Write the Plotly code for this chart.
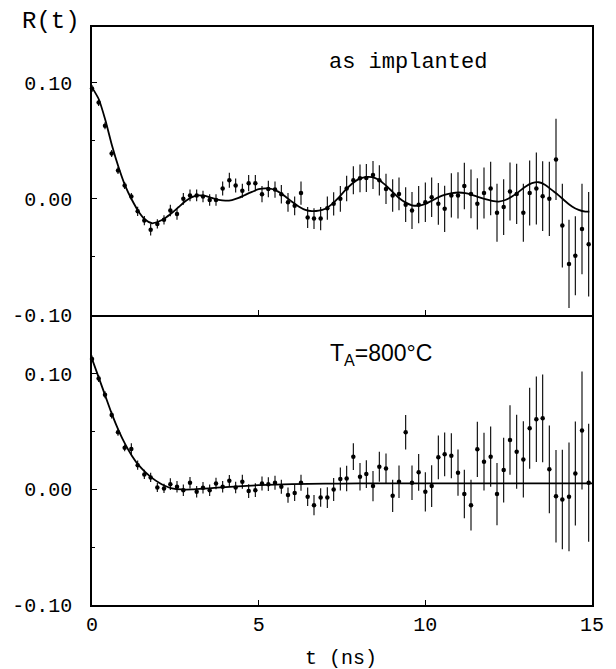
import plotly.graph_objects as go

# ---- data ----
t_ns = [0.00, 0.20, 0.39, 0.59, 0.78, 0.98, 1.18, 1.37, 1.57, 1.76,
        1.96, 2.16, 2.35, 2.55, 2.74, 2.94, 3.14, 3.33, 3.53, 3.72,
        3.92, 4.12, 4.31, 4.51, 4.70, 4.90, 5.10, 5.29, 5.49, 5.68,
        5.88, 6.08, 6.27, 6.47, 6.66, 6.86, 7.06, 7.25, 7.45, 7.64,
        7.84, 8.04, 8.23, 8.43, 8.62, 8.82, 9.02, 9.21, 9.41, 9.60,
        9.80, 10.00, 10.19, 10.39, 10.58, 10.78, 10.98, 11.17, 11.37, 11.56,
        11.76, 11.96, 12.15, 12.35, 12.54, 12.74, 12.94, 13.13, 13.33, 13.52,
        13.72, 13.92, 14.11, 14.31, 14.50, 14.70, 14.90]

top_R = [0.095, 0.083, 0.063, 0.039, 0.0245, 0.0115, 0.002, -0.0107, -0.0187, -0.0265,
         -0.0216, -0.018, -0.010, -0.013, 0.000, 0.003, 0.003, 0.002, -0.001, -0.001,
         0.009, 0.016, 0.0115, 0.007, 0.0135, 0.0135, 0.004, 0.0085, 0.008, 0.004,
         -0.003, -0.006, 0.005, -0.016, -0.017, -0.017, -0.008, -0.0043, 0.000, 0.009,
         0.016, 0.0177, 0.018, 0.0206, 0.016, 0.0086, 0.003, 0.0043, -0.005, -0.010,
         -0.005, -0.003, 0.0014, -0.0043, -0.0086, 0.003, 0.003, 0.011, 0.0043, -0.0043,
         0.005, 0.009, -0.012, -0.0071, 0.0063, 0.0043, -0.012, 0.005, 0.009, 0.0023,
         0.000, 0.034, -0.023, -0.056, -0.049, -0.026, -0.039]

top_err = [0.003, 0.003, 0.003, 0.003, 0.003, 0.003, 0.003, 0.004, 0.004, 0.005,
           0.004, 0.004, 0.005, 0.005, 0.005, 0.005, 0.005, 0.005, 0.005, 0.005,
           0.006, 0.0065, 0.006, 0.006, 0.007, 0.007, 0.007, 0.007, 0.007, 0.008,
           0.008, 0.008, 0.010, 0.009, 0.009, 0.010, 0.010, 0.010, 0.011, 0.011,
           0.012, 0.012, 0.012, 0.012, 0.013, 0.013, 0.014, 0.014, 0.015, 0.016,
           0.016, 0.017, 0.017, 0.018, 0.020, 0.019, 0.020, 0.020, 0.021, 0.022,
           0.022, 0.023, 0.025, 0.024, 0.025, 0.026, 0.025, 0.028, 0.031, 0.030,
           0.032, 0.035, 0.036, 0.038, 0.034, 0.039, 0.045]

bot_R = [0.113, 0.096, 0.082, 0.0645, 0.0495, 0.036, 0.035, 0.021, 0.013, 0.0104,
         0.0017, 0.0009, 0.0046, 0.0023, -0.0006, 0.0058, -0.002, 0.0014, -0.0006, 0.0052,
         0.0023, 0.0075, 0.0017, 0.0067, -0.0014, -0.0006, 0.0052, 0.0046, 0.0058, 0.0023,
         -0.0049, -0.003, 0.0058, -0.0064, -0.0136, -0.007, -0.007, 0.000, 0.009, 0.0095,
         0.0284, 0.011, 0.0133, 0.0029, 0.0197, 0.0182, -0.0055, 0.0067, 0.0495, 0.0058,
         0.0148, -0.002, 0.0029, 0.0278, 0.0304, 0.0292, 0.0145, -0.004, -0.0136, 0.0347,
         0.024, 0.0284, -0.004, 0.0168, 0.0428, 0.0327, 0.026, 0.053, 0.0608, 0.0616,
         0.0174, -0.0058, -0.0087, -0.0064, 0.0139, 0.051, 0.0058]

bot_err = [0.003, 0.003, 0.003, 0.003, 0.003, 0.003, 0.005, 0.004, 0.004, 0.004,
           0.004, 0.004, 0.005, 0.005, 0.005, 0.005, 0.005, 0.005, 0.005, 0.005,
           0.005, 0.005, 0.005, 0.006, 0.006, 0.006, 0.006, 0.006, 0.006, 0.006,
           0.0065, 0.007, 0.007, 0.008, 0.0087, 0.008, 0.009, 0.010, 0.010, 0.011,
           0.0116, 0.012, 0.012, 0.013, 0.013, 0.013, 0.014, 0.014, 0.015, 0.015,
           0.016, 0.017, 0.018, 0.019, 0.019, 0.0195, 0.020, 0.021, 0.022, 0.024,
           0.025, 0.026, 0.027, 0.028, 0.030, 0.032, 0.033, 0.035, 0.037, 0.038,
           0.038, 0.040, 0.043, 0.047, 0.045, 0.051, 0.051]

top_fit_t = [0, 0.2, 0.4, 0.6, 0.8, 1.0, 1.2, 1.4, 1.6, 1.8,
             2.0, 2.2, 2.4, 2.6, 2.8, 3.0, 3.2, 3.4, 3.6, 3.8,
             4.0, 4.2, 4.4, 4.6, 4.8, 5.0, 5.2, 5.4, 5.6, 5.8,
             6.0, 6.2, 6.4, 6.6, 6.8, 7.0, 7.2, 7.4, 7.6, 7.8,
             8.0, 8.2, 8.4, 8.6, 8.8, 9.0, 9.2, 9.4, 9.6, 9.8,
             10.0, 10.2, 10.4, 10.6, 10.8, 11.0, 11.2, 11.4, 11.6, 11.8,
             12.0, 12.2, 12.4, 12.6, 12.8, 13.0, 13.2, 13.4, 13.6, 13.8,
             14.0, 14.2, 14.4, 14.6, 14.8, 14.92]
top_fit_R = [0.096, 0.086, 0.068, 0.046, 0.027, 0.011, -0.001, -0.011, -0.018, -0.021,
             -0.0195, -0.0165, -0.012, -0.007, -0.002, 0.0015, 0.003, 0.0025, 0.0008, -0.0008,
             -0.0015, -0.001, 0.0008, 0.0035, 0.006, 0.0083, 0.009, 0.0085, 0.006, 0.002,
             -0.0025, -0.0065, -0.0095, -0.0106, -0.0102, -0.0085, -0.0045, 0.001, 0.0075, 0.013,
             0.017, 0.0188, 0.0187, 0.0165, 0.012, 0.0065, 0.001, -0.003, -0.0055, -0.0058,
             -0.0043, -0.0015, 0.0015, 0.0037, 0.005, 0.0055, 0.005, 0.0035, 0.0015, -0.0003,
             -0.0017, -0.0023, -0.001, 0.002, 0.006, 0.0105, 0.0135, 0.0143, 0.012, 0.0075,
             0.003, -0.002, -0.0065, -0.0095, -0.011, -0.011]

bot_fit_t = [0, 0.2, 0.4, 0.6, 0.8, 1.0, 1.2, 1.4, 1.6, 1.8, 2.0, 2.2, 2.4, 2.7,
             3.0, 3.5, 4.0, 5.0, 6.0, 7.0, 8.0, 10.0, 12.0, 15.0]
bot_fit_R = [0.113, 0.097, 0.081, 0.065, 0.051, 0.039, 0.029, 0.021, 0.015, 0.010, 0.006, 0.003, 0.001, 0.000,
             0.000, 0.001, 0.002, 0.0037, 0.0046, 0.005, 0.0052, 0.0052, 0.0052, 0.0052]

x_tickvals = [0, 5, 10, 15]
x_ticktext = ["0", "5", "10", "15"]
y_tickvals = [-0.10, 0.00, 0.10]
y_ticktext = ["-0.10", "0.00", "0.10"]

label_top = "as implanted"
label_bot = "T<sub>A</sub>=800°C"
y_title = "R(t)"
x_title = "t (ns)"

# ---- figure ----
MONO = "Liberation Mono"
fig = go.Figure()

fig.add_trace(go.Scatter(x=t_ns, y=top_R, mode="markers", xaxis="x2", yaxis="y2",
                         marker=dict(color="black", size=4.5),
                         error_y=dict(type="data", array=top_err, color="black", thickness=1.1, width=0),
                         cliponaxis=False))
fig.add_trace(go.Scatter(x=top_fit_t, y=top_fit_R, mode="lines", xaxis="x2", yaxis="y2",
                         line=dict(color="black", width=1.8, shape="spline", smoothing=0.6)))
fig.add_trace(go.Scatter(x=t_ns, y=bot_R, mode="markers", xaxis="x", yaxis="y",
                         marker=dict(color="black", size=4.5),
                         error_y=dict(type="data", array=bot_err, color="black", thickness=1.1, width=0),
                         cliponaxis=False))
fig.add_trace(go.Scatter(x=bot_fit_t, y=bot_fit_R, mode="lines", xaxis="x", yaxis="y",
                         line=dict(color="black", width=1.8, shape="spline", smoothing=0.6)))

split = 290 / 578
axis_common = dict(showline=True, linecolor="black", linewidth=1.5,
                   showgrid=False, zeroline=False, ticks="inside", ticklen=5,
                   tickcolor="black", tickwidth=1)

fig.update_layout(
    width=616, height=669,
    margin=dict(l=92, r=19, t=27, b=64),
    paper_bgcolor="white", plot_bgcolor="white",
    showlegend=False,
    xaxis=dict(domain=[0, 1], range=[0, 15], anchor="y", mirror=False,
               tickvals=x_tickvals, ticktext=x_ticktext,
               tickfont=dict(family=MONO, size=20, color="black"),
               ticklabelstandoff=0, **axis_common),
    xaxis2=dict(domain=[0, 1], range=[0, 15], anchor="y2", matches="x", mirror=True,
                tickvals=x_tickvals, showticklabels=False, **axis_common),
    yaxis=dict(domain=[0, split], range=[-0.10, 0.151], anchor="x", mirror=True,
               tickvals=y_tickvals, ticktext=y_ticktext,
               tickfont=dict(family=MONO, size=20, color="black"),
               ticklabelstandoff=14,
               minor=dict(dtick=0.05, tick0=0, ticks="inside", ticklen=3, tickcolor="black"),
               **axis_common),
    yaxis2=dict(domain=[split, 1], range=[-0.10, 0.148], anchor="x2", mirror=True,
                tickvals=y_tickvals, ticktext=y_ticktext,
                tickfont=dict(family=MONO, size=20, color="black"),
                ticklabelstandoff=14,
                minor=dict(dtick=0.05, tick0=0, ticks="inside", ticklen=3, tickcolor="black"),
                **axis_common),
)

fig.add_annotation(text=label_top, xref="x2", yref="y2", x=9.47, y=0.1176,
                   showarrow=False, xanchor="center", yanchor="middle",
                   font=dict(family=MONO, size=22, color="black"))
fig.add_annotation(text=label_bot, xref="x", yref="y", x=7.07, y=0.117,
                   showarrow=False, xanchor="left", yanchor="middle",
                   font=dict(family="Liberation Sans", size=23, color="black"))
fig.add_annotation(text=y_title, xref="paper", yref="paper", x=-0.083, y=1.0087,
                   showarrow=False, xanchor="center", yanchor="middle",
                   font=dict(family=MONO, size=24, color="black"))
fig.add_annotation(text=x_title, xref="paper", yref="paper", x=0.497, y=-0.0917,
                   showarrow=False, xanchor="center", yanchor="middle",
                   font=dict(family=MONO, size=20, color="black"))

fig.write_html("out.html",
               config={"displayModeBar": False},
               post_script="document.body.style.margin='0px';document.body.style.padding='0px';")
